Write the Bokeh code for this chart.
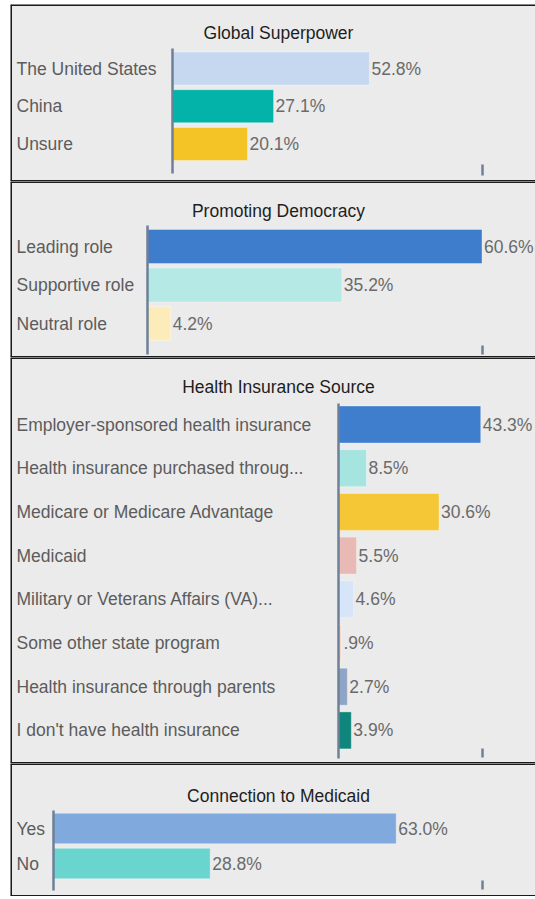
from bokeh.plotting import figure
from bokeh.layouts import column
from bokeh.models import Range1d, ColumnDataSource, Span
from bokeh.core.properties import value
from bokeh.embed import file_html
from bokeh.resources import INLINE
import numpy as np

# ---------------- data ----------------
superpower_title = "Global Superpower"
superpower_cats = ["The United States", "China", "Unsure"]
superpower_vals = [52.8, 27.1, 20.1]
superpower_colors = ["#c6d8ef", "#03b3a9", "#f4c426"]

democracy_title = "Promoting Democracy"
democracy_cats = ["Leading role", "Supportive role", "Neutral role"]
democracy_vals = [60.6, 35.2, 4.2]
democracy_colors = ["#3e7ccc", "#b4e9e5", "#fcecb9"]

insurance_title = "Health Insurance Source"
insurance_cats = [
    "Employer-sponsored health insurance",
    "Health insurance purchased throug...",
    "Medicare or Medicare Advantage",
    "Medicaid",
    "Military or Veterans Affairs (VA)...",
    "Some other state program",
    "Health insurance through parents",
    "I don't have health insurance",
]
insurance_vals = [43.3, 8.5, 30.6, 5.5, 4.6, 0.9, 2.7, 3.9]
insurance_colors = ["#3f7dcd", "#a6e4e0", "#f5c636", "#e9b9b6",
                    "#d6e5f7", "#f6d8cc", "#8fa5c6", "#10857b"]

medicaid_title = "Connection to Medicaid"
medicaid_cats = ["Yes", "No"]
medicaid_vals = [63.0, 28.8]
medicaid_colors = ["#80aadd", "#6ad4ce"]

# ---------------- style ----------------
W = 525
BG = "#ebebeb"
AXIS = "#6e8097"
EDGE = "#1b1b1b"
FONT = "Liberation Sans"
FS = "17.5px"


def panel(title, cats, vals, colors, H, axis_x, scale, row0, pitch, bar_h,
          title_y, axis_top, axis_bot, tick_top, tick_bot):
    def sx(pxv):
        return (pxv - axis_x) / scale

    def sy(pyv):
        return (pyv - row0) / pitch

    p = figure(width=W, height=H,
               x_range=Range1d(sx(0), sx(W)),
               y_range=Range1d(sy(H), sy(0)),
               output_backend="svg", toolbar_location=None,
               min_border=0, background_fill_color=BG, border_fill_color=BG,
               outline_line_color=None)
    p.axis.visible = False
    p.grid.visible = False

    # panel edges (left, top, bottom; the right edge runs off the page)
    p.add_layout(Span(location=sx(0), dimension="height", line_color=EDGE, line_width=3))
    p.add_layout(Span(location=sy(0), dimension="width", line_color=EDGE, line_width=3))
    p.add_layout(Span(location=sy(H), dimension="width", line_color=EDGE, line_width=3))

    ypos = np.arange(len(cats))
    labels = [f"{v:.1f}%".lstrip("0") for v in vals]
    src = ColumnDataSource(dict(y=ypos, v=vals, c=colors, cat=cats, lab=labels))

    p.hbar(y="y", left=0, right="v", height=bar_h / pitch, fill_color="c",
           line_color="white", line_alpha=0.35, line_width=1, source=src)
    p.segment(x0=0, y0=sy(axis_top), x1=0, y1=sy(axis_bot),
              line_color=AXIS, line_width=2.5)
    p.segment(x0=sx(472), y0=sy(tick_top), x1=sx(472), y1=sy(tick_bot),
              line_color=AXIS, line_width=2.5)

    p.text(x=sx(6), y="y", text="cat", source=src, text_font=value(FONT),
           text_font_size=FS, text_color="#5c5c5c", text_baseline="middle",
           text_align="left")
    p.text(x="v", y="y", text="lab", source=src, x_offset=2, text_font=value(FONT),
           text_font_size=FS, text_color="#6a6a6a", text_baseline="middle",
           text_align="left")
    p.text(x=[sx(268)], y=[sy(title_y)], text=[title], text_font=value(FONT),
           text_font_size=FS, text_color="#1e1e1e", text_baseline="middle",
           text_align="center")
    return p


p1 = panel(superpower_title, superpower_cats, superpower_vals, superpower_colors,
           H=177, axis_x=162, scale=3.73, row0=64, pitch=37.75, bar_h=33,
           title_y=28, axis_top=44, axis_bot=169, tick_top=160, tick_bot=171)
p2 = panel(democracy_title, democracy_cats, democracy_vals, democracy_colors,
           H=176, axis_x=137, scale=5.52, row0=65, pitch=38.5, bar_h=34,
           title_y=29, axis_top=44, axis_bot=173, tick_top=164, tick_bot=173)
p3 = panel(insurance_title, insurance_cats, insurance_vals, insurance_colors,
           H=406, axis_x=328, scale=3.285, row0=67, pitch=43.7, bar_h=37,
           title_y=29, axis_top=46, axis_bot=401, tick_top=391, tick_bot=400)
p4 = panel(medicaid_title, medicaid_cats, medicaid_vals, medicaid_colors,
           H=133, axis_x=43, scale=5.44, row0=65, pitch=35, bar_h=30.5,
           title_y=32, axis_top=47, axis_bot=127, tick_top=117, tick_bot=126)

layout = column(p1, p2, p3, p4, spacing=0, margin=(4, 0, 0, 10))

open("out.html", "w").write(file_html(layout, INLINE))
